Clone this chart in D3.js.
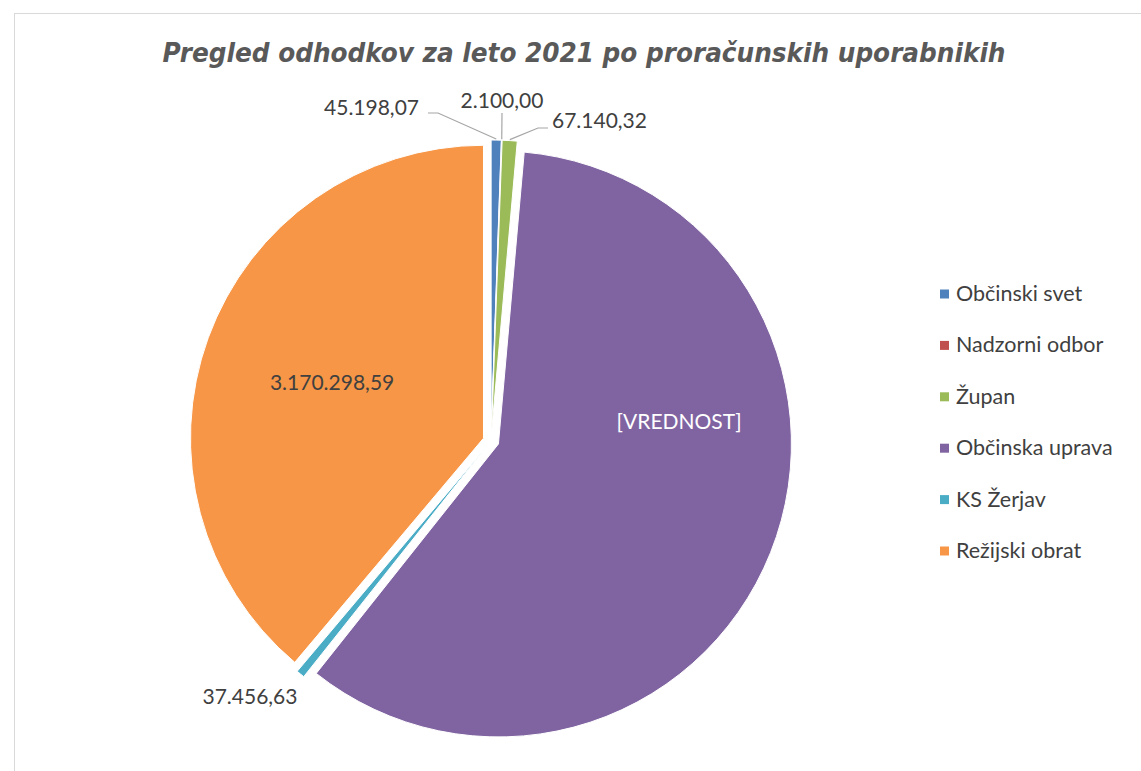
<!DOCTYPE html>
<html>
<head>
<meta charset="utf-8">
<script src="https://cdn.jsdelivr.net/npm/d3@7"></script>
<style>
  html, body { margin: 0; padding: 0; background: #fff; }
  svg { display: block; }
</style>
</head>
<body>
<svg id="chart" width="1141" height="771"></svg>
<script>
// ---- data ----
const categories = ["Občinski svet", "Nadzorni odbor", "Župan", "Občinska uprava", "KS Žerjav", "Režijski obrat"];
const values = [45198.07, 2100.00, 67140.32, 4836000.00, 37456.63, 3170298.59];
const colors = ["#4F81BD", "#C0504D", "#9BBB59", "#8064A2", "#4BACC6", "#F79646"];
const customLabels = [null, null, null, "[VREDNOST]", null, null];
const titleText = "Pregled odhodkov za leto 2021 po proračunskih uporabnikih";

// ---- layout (positions / styles) ----
const W = 1141, H = 771;
const cx = 491, cy = 441, R = 293, explode = 8;
const FONT = "Lato, 'Open Sans', sans-serif";
const textColor = "#404040";
const labelLayout = [
  { type: "leader", elbow: [438, 113], end: [428, 113], tx: 419, ty: 115, anchor: "end" },
  { type: "leader", elbow: null, end: [502, 113], tx: 502, ty: 108, anchor: "middle" },
  { type: "leader", elbow: [538, 128], end: [548, 128], tx: 552, ty: 128, anchor: "start" },
  { type: "point", tx: 679, ty: 429, anchor: "middle", color: "#ffffff" },
  { type: "point", tx: 250, ty: 704, anchor: "middle" },
  { type: "inside", k: 0.55, anchor: "middle" }
];

const locale = d3.formatLocale({ decimal: ",", thousands: ".", grouping: [3], currency: ["", " €"] });
const fmt = locale.format(",.2f");

const svg = d3.select("#chart");

// chart-area border (top & left visible)
svg.append("rect")
  .attr("x", 14.5).attr("y", 13.5)
  .attr("width", W).attr("height", H)
  .attr("fill", "none").attr("stroke", "#d9d9d9").attr("stroke-width", 1);

// title
svg.append("text")
  .attr("x", 584).attr("y", 62)
  .attr("text-anchor", "middle")
  .attr("font-family", "'DejaVu Sans Condensed', 'DejaVu Sans', sans-serif")
  .attr("font-weight", "bold").attr("font-style", "italic")
  .attr("font-size", 27)
  .attr("fill", "#595959")
  .attr("textLength", 843).attr("lengthAdjust", "spacingAndGlyphs")
  .text(titleText);

// pie
const pie = d3.pie().sort(null).startAngle(0).endAngle(2 * Math.PI);
const arcs = pie(values);
const arc = d3.arc().innerRadius(0).outerRadius(R);

const g = svg.append("g").attr("transform", `translate(${cx},${cy})`);

function shift(d, dist) {
  const a = (d.startAngle + d.endAngle) / 2;
  return [Math.sin(a) * dist, -Math.cos(a) * dist];
}

g.selectAll("path.slice")
  .data(arcs)
  .join("path")
  .attr("class", "slice")
  .attr("d", arc)
  .attr("transform", d => { const s = shift(d, explode); return `translate(${s[0]},${s[1]})`; })
  .attr("fill", (d, i) => colors[i])
  .attr("stroke", "#ffffff")
  .attr("stroke-width", 1);

// data labels
arcs.forEach((d, i) => {
  const L = labelLayout[i];
  const txt = customLabels[i] || fmt(values[i]);
  let tx, ty;
  if (L.type === "leader") {
    const p = shift(d, R + explode + 1);
    const pts = [[cx + p[0], cy + p[1]]];
    if (L.elbow) pts.push(L.elbow);
    pts.push(L.end);
    svg.append("path")
      .attr("d", d3.line()(pts))
      .attr("fill", "none")
      .attr("stroke", "#a6a6a6")
      .attr("stroke-width", 1.2);
    tx = L.tx; ty = L.ty;
  } else if (L.type === "inside") {
    const p = shift(d, R * L.k + explode);
    tx = cx + p[0]; ty = cy + p[1] + 7;
  } else {
    tx = L.tx; ty = L.ty;
  }
  svg.append("text")
    .attr("x", tx).attr("y", ty)
    .attr("text-anchor", L.anchor)
    .attr("font-family", FONT)
    .attr("font-size", 21)
    .attr("fill", L.color || textColor)
    .text(txt);
});

// legend
const legend = svg.append("g");
const legendY = d3.scalePoint().domain(categories).range([294, 551]);
categories.forEach((c, i) => {
  const y = legendY(c);
  legend.append("rect")
    .attr("x", 940).attr("y", y - 4.5)
    .attr("width", 9).attr("height", 9)
    .attr("fill", colors[i]);
  legend.append("text")
    .attr("x", 956).attr("y", y + 7)
    .attr("font-family", FONT)
    .attr("font-size", 21.5)
    .attr("fill", textColor)
    .text(c);
});
</script>
</body>
</html>
